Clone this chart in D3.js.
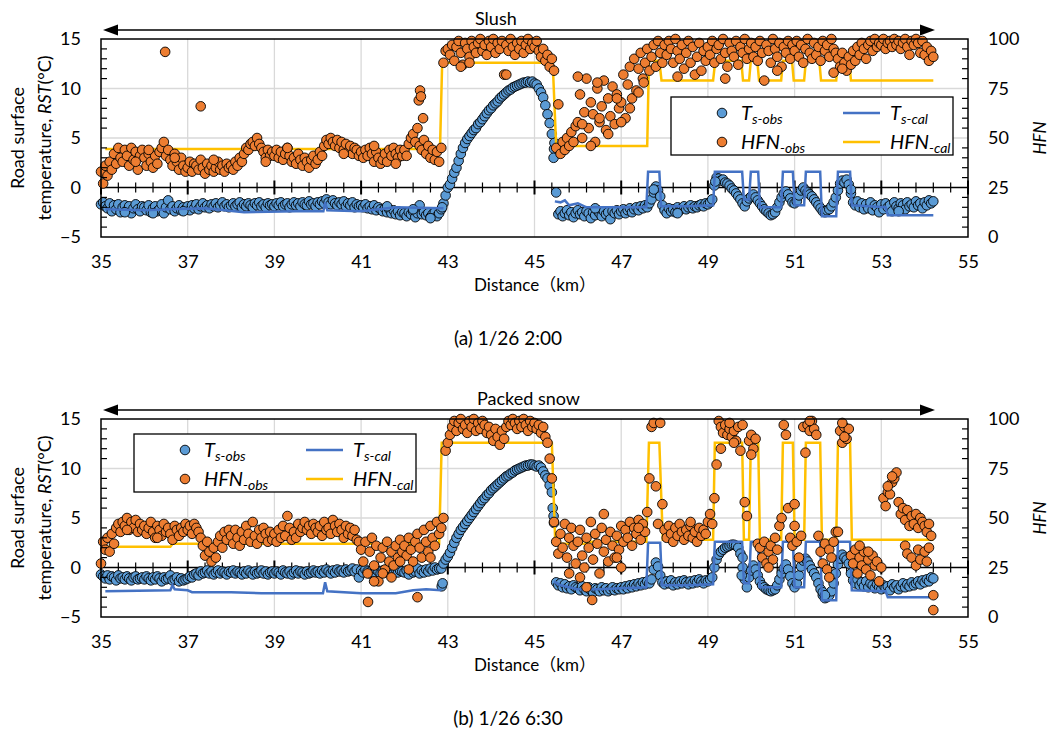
<!DOCTYPE html>
<html>
<head>
<meta charset="utf-8">
<script src="https://d3js.org/d3.v7.min.js"></script>
<style>
	body { margin: 0; background: #fff; }
	text { font-family: Lato, "Noto Sans CJK JP", sans-serif; fill: #000; }
</style>
</head>
<body>
<svg width="1050" height="730"></svg>
<script>
// ---- data: obs rows are one km each, samples every 0.05 km starting at 35.00 ----
var tsObsA = [
	[-1.7,-1.5,-1.9,-2.1,-1.6,-2.4,-1.8,-2.2,-1.7,-2.5,-2.0,-1.8,-2.3,-1.9,-2.6,-2.1,-1.7,-2.2,-2.4,-1.9],
	[-2.0,-2.3,-1.8,-2.5,-2.1,-1.9,-2.4,-2.2,-1.7,-2.6,-2.0,-1.3,-2.2,-1.9,-2.4,-2.1,-1.8,-2.3,-2.0,-2.2],
	[-1.9,-2.3,-1.8,-2.1,-1.7,-2.2,-1.9,-1.6,-2.0,-1.8,-2.1,-1.7,-1.9,-1.6,-2.0,-1.8,-1.5,-1.9,-1.7,-2.0],
	[-1.8,-1.6,-1.9,-1.7,-1.5,-2.0,-1.7,-1.9,-1.6,-1.8,-2.0,-1.6,-1.8,-1.5,-1.9,-1.7,-2.0,-1.6,-1.8,-1.7],
	[-1.9,-1.6,-1.8,-1.5,-1.9,-1.7,-1.6,-2.0,-1.7,-1.5,-1.8,-1.6,-1.9,-1.5,-1.7,-1.8,-1.4,-1.7,-1.6,-1.9],
	[-1.5,-1.7,-1.4,-1.6,-1.2,-1.5,-1.7,-1.3,-1.6,-1.8,-1.5,-1.7,-1.4,-1.9,-1.6,-1.8,-1.5,-2.0,-1.7,-1.9],
	[-1.8,-2.0,-1.7,-2.1,-1.9,-2.2,-1.8,-2.3,-2.0,-2.2,-2.4,-2.1,-2.5,-2.2,-2.6,-2.3,-2.7,-2.4,-2.8,-2.5],
	[-2.6,-2.9,-2.5,-2.7,-2.4,-3.0,-2.6,-1.8,-2.7,-2.5,-2.8,-2.6,-3.0,-2.7,-2.5,-2.9,-2.6,-2.2,-1.6,-0.8],
	[0.0,0.3,0.9,1.5,2.0,2.7,3.4,4.0,4.5,4.9,5.2,5.5,5.8,6.0,6.4,6.6,6.9,7.2,7.5,7.8],
	[8.0,8.3,8.5,8.7,9.0,9.2,9.4,9.6,9.8,9.9,10.1,10.2,10.3,10.4,10.5,10.6,10.6,10.7,10.6,10.7],
	[10.5,10.4,10.0,9.6,9.1,8.3,7.4,6.5,5.4,3.9,-0.5,-2.7,-2.4,-2.9,-2.6,-2.3,-2.8,-2.5,-3.0,-2.6],
	[-2.3,-2.7,-2.5,-2.9,-2.4,-2.6,-3.1,-2.5,-2.8,-2.3,-2.6,-2.9,-2.4,-2.7,-2.5,-3.2,-2.4,-2.6,-2.3,-2.7],
	[-2.4,-2.2,-2.6,-2.3,-2.1,-2.5,-2.2,-2.0,-2.3,-1.9,-2.1,-1.8,-2.0,-1.6,-1.2,-0.5,0.1,-0.3,-0.9,-1.8],
	[-2.3,-2.6,-2.1,-2.4,-2.2,-2.5,-2.0,-2.3,-2.1,-1.9,-2.2,-2.0,-1.8,-2.1,-1.9,-2.0,-1.8,-1.7,-1.9,-1.6],
	[-1.7,-1.5,-1.2,0.2,1.0,0.9,0.7,0.8,0.5,0.4,0.2,-0.1,-0.3,-0.6,-0.9,-1.2,-1.6,-1.9,-1.4,-1.1],
	[-0.9,-0.7,-1.0,-1.3,-1.6,-1.9,-2.2,-2.4,-2.6,-2.8,-2.7,-2.5,-2.0,-1.5,-1.0,-0.6,-0.4,-0.7,-1.1,-1.5],
	[-1.6,-1.4,-0.8,-0.3,0.0,-0.3,-0.5,-0.7,-0.9,-1.2,-1.5,-1.8,-2.1,-2.4,-2.5,-2.3,-2.2,-1.9,-1.5,-1.0],
	[-0.3,0.4,0.7,0.5,0.8,0.3,-0.6,-1.5,-1.8,-1.4,-2.0,-1.6,-2.2,-1.7,-2.1,-1.5,-2.3,-1.8,-2.0,-2.5],
	[-1.7,-2.2,-1.6,-2.0,-1.8,-2.4,-1.5,-1.9,-2.1,-1.6,-1.8,-2.2,-1.5,-1.9,-1.7,-2.0,-1.4,-1.8,-1.6,-2.1],
	[-1.5,-1.8,-1.3,-1.6,-1.4]
];
var tsExtraA = [[42.87,-2.0],[45.44,3.0],[45.46,4.5],[47.75,-0.2],[49.17,0.6],[52.3,-0.2],
	[35.55,-2.5],[36.2,-2.6],[36.9,-2.4],[41.6,-1.9],[42.2,-2.2],[42.6,-3.1],[46.4,-2.1],[48.3,-2.6],[53.4,-2.4]];

var hfnObsA = [
	[33,27,36,31,38,34,42,37,45,40,38,44,41,36,45,39,43,34,41,44],
	[40,36,42,38,35,41,37,43,45,48,41,44,39,36,42,38,34,40,36,33],
	[35,38,33,37,36,34,39,35,32,37,34,36,33,35,38,34,36,33,37,35],
	[36,34,38,36,40,38,42,45,44,47,48,46,50,47,45,43,40,44,41,43],
	[41,44,40,43,39,42,45,41,38,40,37,42,39,36,40,38,35,39,41,37],
	[39,43,41,46,49,47,50,48,46,49,45,48,44,47,43,46,42,45,44,41],
	[43,40,44,41,45,42,38,43,40,37,39,42,38,44,41,45,42,40,44,41],
	[44,41,47,50,52,48,55,46,44,49,42,46,40,44,39,43,38,45,88,94],
	[95,92,97,89,96,99,93,87,98,95,91,99,96,93,98,100,94,97,92,99],
	[96,100,93,98,95,99,82,97,94,100,96,92,98,95,99,93,97,100,95,98],
	[96,99,94,91,95,89,92,86,90,84,45,67,42,48,44,50,46,53,48,56],
	[58,72,50,63,80,55,68,62,48,75,58,66,79,54,70,61,76,57,72,65],
	[68,82,60,77,86,70,90,74,85,93,80,88,95,84,91,97,86,99,93,88],
	[97,92,99,95,88,100,94,90,97,85,93,99,88,96,82,91,98,84,94,89],
	[96,92,99,88,95,97,90,100,93,86,98,94,91,99,87,96,93,100,90,95],
	[98,91,96,89,99,93,79,97,94,88,100,95,91,98,86,96,93,99,90,97],
	[94,99,91,97,88,95,100,93,90,98,92,96,89,99,94,97,91,100,95,93],
	[90,86,93,88,84,91,87,94,89,96,92,98,95,90,97,99,94,100,96,98],
	[97,100,95,98,99,96,100,97,99,95,98,100,96,92,99,97,100,98,93,99],
	[92,96,89,94,91]
];
var hfnExtraA = [[36.48,93.5],[37.3,66],[42.33,69],[42.36,74],[42.38,71],[42.43,60],[43.3,86],[43.5,88],
	[44.35,82],[46.0,81],[46.1,57],[46.3,46],[46.45,78],[46.5,60],[46.7,52],[46.9,70],[47.0,58],[47.2,65],
	[47.4,73],[47.52,78],[48.3,81],[49.4,80],[50.6,84],[51.9,83],[52.1,85],
	[35.8,38],[36.1,44],[36.7,40],[37.6,39],[38.8,38],[39.3,45],[40.6,42],[41.3,46],[41.8,37]];

var tsObsB = [
	[-0.7,-0.9,-1.1,-0.8,-1.2,-0.9,-1.0,-1.3,-0.8,-1.1,-1.0,-1.2,-0.9,-1.1,-1.3,-1.0,-0.9,-1.2,-1.1,-1.0],
	[-1.2,-0.9,-1.1,-1.3,-1.0,-1.2,-0.9,-1.1,-1.4,-1.0,-1.2,-1.1,-0.8,-1.3,-1.2,-1.0,-1.4,-1.1,-1.3,-1.2],
	[-1.1,-0.9,-1.0,-0.7,-0.6,-0.8,-0.4,-0.6,-0.5,-0.3,-0.6,-0.4,-0.7,-0.5,-0.3,-0.6,-0.4,-0.5,-0.7,-0.4],
	[-0.5,-0.3,-0.6,-0.4,-0.5,-0.7,-0.4,-0.6,-0.3,-0.5,-0.7,-0.4,-0.6,-0.5,-0.3,-0.6,-0.4,-0.7,-0.5,-0.4],
	[-0.6,-0.4,-0.5,-0.7,-0.3,-0.5,-0.6,-0.4,-0.7,-0.5,-0.3,-0.6,-0.4,-0.5,-0.7,-0.4,-0.6,-0.5,-0.3,-0.5],
	[-0.4,-0.6,-0.3,-0.5,-0.2,-0.4,-0.6,-0.3,-0.5,-0.2,-0.4,-0.3,-0.5,-0.2,-0.4,-0.3,-0.1,-0.4,-0.2,-1.0],
	[-0.3,-0.5,-0.2,-0.4,-0.6,-0.3,-0.5,-0.2,-0.4,-0.6,-0.3,-0.5,-0.2,-0.4,-0.3,-0.6,-0.2,-0.5,-0.3,-0.4],
	[-0.5,-0.3,-0.7,-0.2,-0.5,-0.4,-0.1,-0.6,-0.3,-0.5,-0.2,-0.4,-0.1,-0.3,0.0,-0.2,-0.1,-0.1,0.4,0.8],
	[1.1,1.5,2.0,2.5,3.0,3.4,3.8,4.1,4.4,4.7,5.0,5.3,5.6,5.9,6.2,6.5,6.8,7.0,7.3,7.5],
	[7.8,8.0,8.2,8.4,8.6,8.8,9.0,9.2,9.3,9.5,9.6,9.8,9.9,10.0,10.1,10.2,10.3,10.3,10.4,10.4],
	[10.3,10.2,10.3,10.1,9.7,9.3,9.0,8.3,7.6,4.5,-1.5,-1.8,-1.6,-2.0,-1.7,-2.1,-1.9,-2.2,-1.8,-2.0],
	[-2.1,-2.3,-1.9,-2.2,-2.4,-2.0,-2.3,-2.5,-2.1,-2.2,-2.4,-2.0,-2.3,-2.1,-2.4,-2.2,-2.0,-2.3,-2.1,-2.2],
	[-2.0,-2.2,-1.9,-2.1,-1.8,-2.0,-1.7,-1.9,-1.6,-1.8,-1.5,-1.7,-1.4,-1.6,-1.2,-0.2,0.5,0.1,-0.8,-1.5],
	[-1.7,-1.4,-1.6,-1.3,-1.8,-1.5,-1.7,-1.4,-1.6,-1.3,-1.5,-1.7,-1.4,-1.6,-1.3,-1.5,-1.2,-1.4,-1.6,-1.3],
	[-1.4,-1.2,-1.0,0.0,0.8,1.3,1.6,1.8,2.0,2.1,2.2,2.3,2.3,2.2,2.0,1.4,0.0,-1.2,-2.0,-1.0],
	[-0.3,0.2,-0.2,-0.8,-1.4,-1.8,-2.0,-2.2,-2.3,-2.4,-2.3,-2.2,-1.8,-1.2,-0.6,-0.1,0.3,-0.2,-0.9,-1.6],
	[-2.0,-1.6,-0.8,0.1,0.7,0.9,0.6,0.2,-0.2,-0.6,-1.0,-1.6,-2.2,-2.8,-3.1,-3.0,-2.8,-2.4,-1.6,-0.6],
	[0.3,0.9,1.3,1.0,0.8,0.4,-0.6,-1.3,-1.6,-1.2,-1.8,-1.5,-1.9,-1.4,-2.0,-1.6,-1.8,-2.1,-1.7,-2.0],
	[-2.2,-1.8,-2.1,-1.9,-2.3,-1.7,-2.0,-1.8,-2.2,-1.9,-1.6,-2.0,-1.7,-1.9,-1.5,-1.8,-1.6,-1.4,-1.7,-1.3],
	[-1.5,-1.2,-1.4,-1.0,-1.1]
];
var tsExtraB = [[42.86,-1.9],[42.88,-1.6],[45.42,6.0],[45.44,5.2],[49.78,-0.8],[49.8,1.0],[51.65,-2.5],[51.7,-2.8]];

var hfnObsB = [
	[27,38,34,40,33,42,37,45,47,43,48,46,50,44,48,45,49,43,47,44],
	[46,42,45,48,43,40,46,44,41,47,43,45,42,39,46,44,41,45,43,47],
	[44,46,42,47,45,43,40,36,31,38,33,28,35,30,38,41,35,43,39,44],
	[41,37,44,40,36,43,39,46,42,38,48,41,37,44,40,45,42,38,43,39],
	[42,38,44,40,46,41,51,45,39,43,40,47,43,45,48,44,46,42,47,45],
	[43,46,41,48,44,45,42,49,46,43,47,44,40,46,42,45,41,44,39,38],
	[34,28,38,22,33,40,26,36,18,30,35,24,38,28,33,26,36,30,39,33],
	[36,31,40,34,28,38,42,35,30,44,38,33,46,40,36,48,42,45,50,84],
	[88,92,96,99,94,98,100,95,97,93,99,96,100,94,98,95,99,97,93,96],
	[92,89,95,91,87,94,90,96,99,97,100,98,95,99,96,100,97,94,99,96],
	[98,95,97,93,96,91,88,80,70,48,38,32,42,35,47,30,40,45,36,27],
	[38,44,31,25,40,35,48,29,42,37,22,45,33,39,28,43,36,30,41,34],
	[46,38,44,40,48,36,45,42,49,39,47,43,53,70,96,98,66,47,98,57],
	[44,40,46,42,38,45,41,47,43,39,44,41,46,40,43,38,45,41,44,42],
	[48,52,47,60,77,99,96,93,97,92,95,91,94,89,96,84,97,58,51,89],
	[92,85,90,37,35,30,38,27,33,36,29,40,34,46,50,97,92,55,40,36],
	[57,38,30,41,96,83,97,94,99,95,92,41,33,27,37,24,34,30,38,43],
	[43,94,88,96,90,95,31,27,34,22,30,26,33,24,29,21,31,26,28,18],
	[25,60,56,63,62,68,70,73,58,52,55,49,54,46,51,47,52,45,50,48],
	[46,43,47,41,11]
];
var hfnExtraB = [[35.6,44],[36.3,40],[41.16,7.6],[41.3,18],[41.5,22],[41.7,20],[41.9,28],[42.1,24],[42.3,10],
	[42.6,30],[45.8,22],[46.05,20],[46.2,15],[46.33,8.6],[46.6,52],[46.9,30],[47.0,25],[47.4,45],[48.6,48],
	[49.3,85],[49.5,98],[49.6,88],[50.0,82],[50.4,25],[51.0,46],[51.35,99],[51.8,20],[52.1,98],[52.15,91],
	[52.5,36],[52.7,33],[53.15,66],[53.25,71],[53.55,36],[53.6,32],[53.7,30],[53.8,26],[53.85,34],[53.9,29],
	[54.0,33],[54.05,28],[54.1,35],[54.2,3.5]];

// ---- calculated lines [km, value] ----
var tsCalA = [
	[[35.1,-2.2],[36.0,-2.3],[36.6,-2.2],[37.4,-2.1],[38.3,-2.5],[39.5,-2.4],[40.13,-2.4],[40.17,-1.5],[40.22,-2.3],
	 [41.0,-2.4],[41.8,-2.0],[42.9,-2.1]],
	[[45.47,-1.4],[45.6,-1.5],[45.7,-1.3],[45.8,-1.8],[46.0,-1.6],[46.2,-2.0],[47.0,-2.0],[47.58,-2.0],[47.62,1.6],
	 [47.88,1.6],[47.92,-1.9],[48.5,-1.9],[49.12,-1.8],[49.16,1.6],[49.79,1.6],[49.83,-1.2],[49.95,-1.2],[49.99,1.6],
	 [50.16,1.6],[50.2,-2.0],[50.69,-2.0],[50.73,1.6],[50.96,1.6],[51.0,-1.8],[51.22,-1.8],[51.26,1.6],[51.59,1.6],
	 [51.63,-2.9],[51.96,-2.9],[52.0,1.6],[52.28,1.6],[52.32,-1.8],[53.1,-2.0],[53.15,-2.8],[54.2,-2.8]]
];
var hfnCalA = [
	[[35.1,44.4],[42.82,44.4],[42.87,88],[45.42,88],[45.5,46],[47.6,46],[47.64,89],[47.88,89],[47.93,79],[49.12,79],
	 [49.17,89],[49.77,89],[49.81,79],[49.95,79],[49.99,89],[50.14,89],[50.18,79],[50.69,79],[50.73,89],[50.94,89],
	 [50.98,79],[51.22,79],[51.26,89],[51.57,89],[51.61,79],[51.96,79],[52.0,89],[52.26,89],[52.3,79],[54.2,79]]
];
var tsCalB = [
	[[35.1,-2.4],[36.6,-2.3],[36.65,-1.8],[36.7,-2.2],[37.0,-2.3],[37.1,-2.5],[38.0,-2.5],[38.7,-2.6],[40.12,-2.6],
	 [40.17,-1.5],[40.22,-2.4],[41.0,-2.6],[41.8,-2.6],[42.2,-2.3],[42.5,-2.2],[42.85,-2.3]],
	[[45.45,-1.4],[45.6,-1.8],[46.0,-2.2],[46.5,-2.2],[47.0,-2.1],[47.58,-2.0],[47.62,2.5],[47.9,2.5],[47.94,-1.8],
	 [48.5,-1.8],[49.12,-1.7],[49.16,2.6],[49.79,2.6],[49.83,-1.6],[49.95,-1.6],[49.99,2.6],[50.16,2.6],[50.2,-2.0],
	 [50.69,-2.0],[50.73,2.6],[50.96,2.6],[51.0,-2.0],[51.22,-2.0],[51.26,2.6],[51.59,2.6],[51.63,-3.3],[51.96,-3.3],
	 [52.0,2.6],[52.28,2.6],[52.32,-2.3],[53.1,-2.4],[53.15,-3.0],[54.2,-3.0]]
];
var hfnCalB = [
	[[35.1,35.5],[36.6,35.5],[36.65,37],[42.8,37],[42.86,88],[45.4,88],[45.48,37],[46.2,37],[46.25,38],[47.58,38],
	 [47.64,88],[47.88,88],[47.96,39],[49.12,39],[49.16,88],[49.79,88],[49.83,39],[49.95,39],[49.99,88],[50.16,88],
	 [50.2,39],[50.69,39],[50.73,88],[50.96,88],[51.0,39],[51.22,39],[51.26,88],[51.59,88],[51.63,39],[51.96,39],
	 [52.0,88],[52.28,88],[52.32,39],[54.2,39]]
];

var xTicks = [35, 37, 39, 41, 43, 45, 47, 49, 51, 53, 55];
var tTicks = [-5, 0, 5, 10, 15];
var hTicks = [0, 25, 50, 75, 100];

var panels = [
	{oy: 0, state: "Slush", stateX: 475, title: "(a) 1/26 2:00", legend: [671, 97],
	 tsObs: tsObsA, tsExtra: tsExtraA, hfnObs: hfnObsA, hfnExtra: hfnExtraA, tsCal: tsCalA, hfnCal: hfnCalA},
	{oy: 380, state: "Packed snow", stateX: 477, title: "(b) 1/26 6:30", legend: [134, 434],
	 tsObs: tsObsB, tsExtra: tsExtraB, hfnObs: hfnObsB, hfnExtra: hfnExtraB, tsCal: tsCalB, hfnCal: hfnCalB}
];

var BLUE = "#5B9BD5", ORANGE = "#ED7D31", BLUE_LINE = "#4472C4", YELLOW = "#FFC000";

var svg = d3.select("svg");
var x = d3.scaleLinear().domain([35, 55]).range([101, 968]);

// rows of samples -> [km, value]
function toPoints(rows, extra) {
	var out = [];
	rows.forEach(function(row, r) {
		row.forEach(function(v, j) { out.push([35 + r + j * 0.05, v]); });
	});
	return out.concat(extra);
}

function drawPanel(p) {
	var oy = p.oy;
	var yT = d3.scaleLinear().domain([-5, 15]).range([237 + oy, 39 + oy]);
	var yH = d3.scaleLinear().domain([0, 100]).range([237 + oy, 39 + oy]);
	var g = svg.append("g");

	// gridlines
	g.selectAll(null).data(xTicks.slice(1, -1)).join("line")
		.attr("x1", d => x(d)).attr("x2", d => x(d))
		.attr("y1", yT(15)).attr("y2", yT(-5))
		.attr("stroke", "#d9d9d9").attr("stroke-width", 1.3);
	g.selectAll(null).data([5, 10]).join("line")
		.attr("x1", x(35)).attr("x2", x(55))
		.attr("y1", d => yT(d)).attr("y2", d => yT(d))
		.attr("stroke", "#d9d9d9").attr("stroke-width", 1.3);

	// x axis through 0
	var y0 = yT(0);
	g.append("line").attr("x1", x(35)).attr("x2", x(55)).attr("y1", y0).attr("y2", y0)
		.attr("stroke", "#000").attr("stroke-width", 1.5);
	var minor = d3.range(0, 51).map(i => 35 + i * 0.4).filter(v => Math.abs((v - 35) / 2 - Math.round((v - 35) / 2)) > 0.01);
	g.selectAll(null).data(minor).join("line")
		.attr("x1", d => x(d)).attr("x2", d => x(d))
		.attr("y1", y0 - 5).attr("y2", y0 + 5)
		.attr("stroke", "#000").attr("stroke-width", 1.2);
	g.selectAll(null).data(xTicks).join("line")
		.attr("x1", d => x(d)).attr("x2", d => x(d))
		.attr("y1", y0 - 7).attr("y2", y0 + 7)
		.attr("stroke", "#000").attr("stroke-width", 2);

	// series
	var tsPts = toPoints(p.tsObs, p.tsExtra);
	g.append("g").selectAll("circle").data(tsPts).join("circle")
		.attr("cx", d => x(d[0])).attr("cy", d => yT(d[1])).attr("r", 4.8)
		.attr("fill", BLUE).attr("stroke", "#000").attr("stroke-width", 0.9);
	g.selectAll(null).data(p.tsCal).join("path")
		.attr("d", d3.line().x(d => x(d[0])).y(d => yT(d[1])))
		.attr("fill", "none").attr("stroke", BLUE_LINE).attr("stroke-width", 2.5);
	g.selectAll(null).data(p.hfnCal).join("path")
		.attr("d", d3.line().x(d => x(d[0])).y(d => yH(d[1])))
		.attr("fill", "none").attr("stroke", YELLOW).attr("stroke-width", 2.5);
	var hfnPts = toPoints(p.hfnObs, p.hfnExtra);
	g.append("g").selectAll("circle").data(hfnPts).join("circle")
		.attr("cx", d => x(d[0])).attr("cy", d => yH(d[1])).attr("r", 4.8)
		.attr("fill", ORANGE).attr("stroke", "#000").attr("stroke-width", 0.9);

	// frame and inner minor ticks
	g.append("rect").attr("x", x(35)).attr("y", yT(15))
		.attr("width", x(55) - x(35)).attr("height", yT(-5) - yT(15))
		.attr("fill", "none").attr("stroke", "#000").attr("stroke-width", 1.5);
	g.selectAll(null).data(d3.range(-5, 16).filter(v => v % 5 !== 0)).join("line")
		.attr("x1", x(35)).attr("x2", x(35) + 6)
		.attr("y1", d => yT(d)).attr("y2", d => yT(d))
		.attr("stroke", "#000").attr("stroke-width", 1.2);
	g.selectAll(null).data(d3.range(0, 101, 5).filter(v => v % 25 !== 0)).join("line")
		.attr("x1", x(55) - 6).attr("x2", x(55))
		.attr("y1", d => yH(d)).attr("y2", d => yH(d))
		.attr("stroke", "#000").attr("stroke-width", 1.2);

	// tick labels via d3 axes
	var ax = g.append("g").attr("transform", "translate(0," + yT(-5) + ")")
		.call(d3.axisBottom(x).tickValues(xTicks).tickSize(0).tickPadding(18).tickFormat(d3.format("d")));
	var ayl = g.append("g").attr("transform", "translate(" + x(35) + ",0)")
		.call(d3.axisLeft(yT).tickValues(tTicks).tickSize(0).tickPadding(20));
	var ayr = g.append("g").attr("transform", "translate(" + x(55) + ",0)")
		.call(d3.axisRight(yH).tickValues(hTicks).tickSize(0).tickPadding(20));
	[ax, ayl, ayr].forEach(a => {
		a.select(".domain").remove();
		a.selectAll("text").attr("font-size", 18).attr("font-family", "Lato, sans-serif").attr("fill", "#000");
	});

	// axis titles
	g.append("text").attr("x", 535).attr("y", 285 + oy).attr("dy", "0.35em")
		.attr("text-anchor", "middle").attr("font-size", 17).text("Distance（km）");
	var midY = 138 + oy;
	g.append("text").attr("transform", "translate(18," + midY + ") rotate(-90)").attr("dy", "0.35em")
		.attr("text-anchor", "middle").attr("font-size", 18).text("Road surface");
	var t2 = g.append("text").attr("transform", "translate(45," + midY + ") rotate(-90)").attr("dy", "0.35em")
		.attr("text-anchor", "middle").attr("font-size", 18);
	t2.append("tspan").text("temperature, ");
	t2.append("tspan").attr("font-style", "italic").text("RST");
	t2.append("tspan").text("(°C)");
	g.append("text").attr("transform", "translate(1040," + midY + ") rotate(-90)").attr("dy", "0.35em")
		.attr("text-anchor", "middle").attr("font-size", 17).attr("font-style", "italic").text("HFN");

	// road state arrow
	var ay = 30 + oy;
	g.append("line").attr("x1", 110).attr("x2", 928).attr("y1", ay).attr("y2", ay)
		.attr("stroke", "#000").attr("stroke-width", 1.3);
	g.append("path").attr("d", "M103," + ay + "L118," + (ay - 5.5) + "L118," + (ay + 5.5) + "Z");
	g.append("path").attr("d", "M935," + ay + "L920," + (ay - 5.5) + "L920," + (ay + 5.5) + "Z");
	g.append("text").attr("x", p.stateX).attr("y", 19 + oy).attr("dy", "0.35em")
		.attr("font-size", 18).text(p.state);

	// panel caption
	g.append("text").attr("x", 508).attr("y", 338 + oy).attr("dy", "0.35em")
		.attr("text-anchor", "middle").attr("font-size", 19).text(p.title);

	// legend
	var lx = p.legend[0], ly = p.legend[1];
	var lg = g.append("g");
	lg.append("rect").attr("x", lx).attr("y", ly).attr("width", 282).attr("height", 58)
		.attr("fill", "#fff").attr("stroke", "#000").attr("stroke-width", 1.3);
	var items = [
		{kind: "dot", color: BLUE, main: "T", sub: "s-obs", col: 0, row: 0},
		{kind: "dot", color: ORANGE, main: "HFN", sub: "-obs", col: 0, row: 1},
		{kind: "line", color: BLUE_LINE, main: "T", sub: "s-cal", col: 1, row: 0},
		{kind: "line", color: YELLOW, main: "HFN", sub: "-cal", col: 1, row: 1}
	];
	items.forEach(it => {
		var cy = ly + 16 + it.row * 29;
		var tx;
		if (it.kind === "dot") {
			lg.append("circle").attr("cx", lx + 51).attr("cy", cy).attr("r", 4.8)
				.attr("fill", it.color).attr("stroke", "#000").attr("stroke-width", 0.9);
			tx = lx + 70;
		} else {
			lg.append("line").attr("x1", lx + 172).attr("x2", lx + 209).attr("y1", cy).attr("y2", cy)
				.attr("stroke", it.color).attr("stroke-width", 2.5);
			tx = lx + 219;
		}
		var t = lg.append("text").attr("x", tx).attr("y", cy + 7)
			.attr("font-size", 20).attr("font-style", "italic");
		t.append("tspan").text(it.main);
		t.append("tspan").attr("font-size", 14).attr("dy", 4).text(it.sub);
	});
}

panels.forEach(drawPanel);
</script>
</body>
</html>
